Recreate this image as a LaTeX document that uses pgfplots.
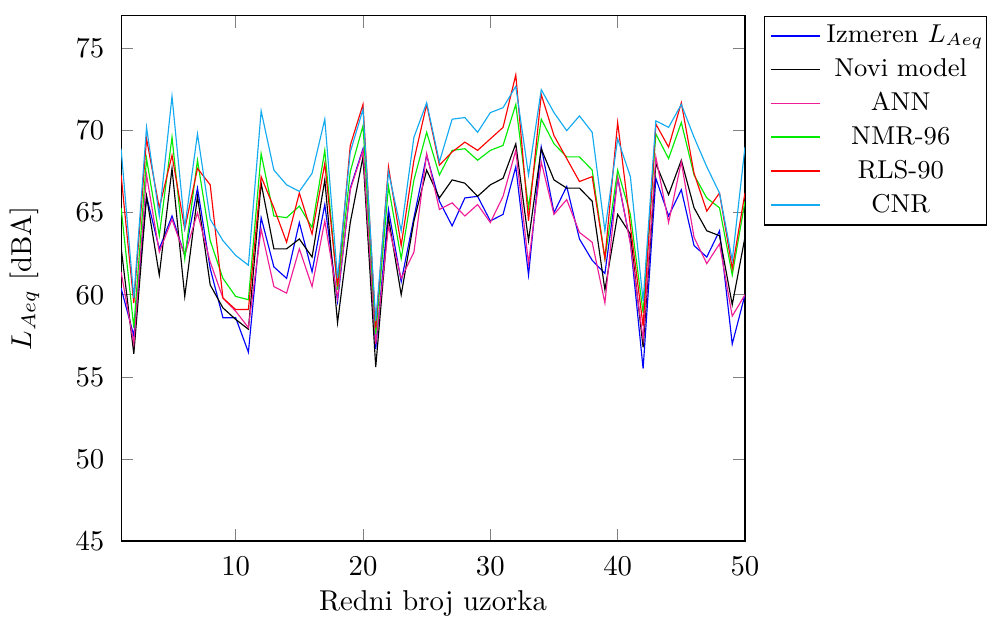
\documentclass[border=0pt]{standalone}
\usepackage{pgfplots}
\usepackage{pgfplotstable}
\pgfplotsset{compat=1.18}
\definecolor{annc}{RGB}{240,30,150}
\definecolor{cnrc}{RGB}{20,170,240}
\definecolor{nmrc}{RGB}{0,235,0}
\pgfplotstableread{
x izm novi ann nmr rls cnr
1 60.4 62.9 61.4 65.3 67.3 68.9
2 57.5 56.4 57.0 58.0 59.5 59.8
3 66.0 66.0 67.3 68.3 69.5 70.2
4 62.8 61.2 62.6 63.6 65.3 64.8
5 64.8 67.7 64.6 69.6 68.5 72.1
6 62.4 59.9 62.4 62.2 64.0 64.1
7 66.5 66.0 65.0 68.2 67.7 69.8
8 61.6 60.6 62.0 63.3 66.7 64.6
9 58.6 59.2 59.8 61.0 59.8 63.3
10 58.6 58.5 59.0 59.9 59.1 62.4
11 56.5 57.9 58.0 59.7 59.1 61.8
12 64.7 66.8 64.0 68.6 67.2 71.2
13 61.7 62.8 60.5 64.8 65.3 67.6
14 61.0 62.8 60.1 64.7 63.2 66.7
15 64.4 63.4 62.8 65.4 66.2 66.3
16 61.4 62.3 60.5 64.1 63.7 67.4
17 65.5 67.0 64.5 68.8 68.0 70.7
18 59.6 58.3 59.8 60.3 60.5 61.0
19 66.5 64.4 66.4 67.5 69.1 68.7
20 68.9 68.4 68.8 70.3 71.6 71.3
21 56.7 55.6 57.0 57.6 58.0 58.4
22 65.2 64.7 64.2 66.6 67.8 67.5
23 60.8 60.0 61.0 62.2 63.0 63.9
24 64.7 64.5 62.6 67.0 68.2 69.6
25 68.5 67.6 68.6 69.9 71.6 71.7
26 65.7 65.9 65.2 67.3 67.9 68.1
27 64.2 67.0 65.6 68.8 68.7 70.7
28 65.9 66.8 64.8 68.9 69.3 70.8
29 66.0 66.0 65.5 68.2 68.8 69.9
30 64.5 66.7 64.4 68.8 69.5 71.1
31 64.9 67.1 66.0 69.1 70.2 71.4
32 67.8 69.2 68.8 71.6 73.4 72.7
33 61.2 63.3 61.9 65.3 64.5 67.3
34 69.0 68.9 68.1 70.7 72.2 72.5
35 65.0 67.0 64.9 69.2 69.7 71.1
36 66.6 66.5 65.8 68.4 68.3 70.0
37 63.4 66.5 63.8 68.4 66.9 70.9
38 62.1 65.7 63.2 67.6 67.2 69.9
39 61.3 60.3 59.5 62.2 62.2 63.9
40 67.1 64.9 67.2 67.6 70.5 69.5
41 63.2 63.7 63.1 64.9 64.2 67.2
42 55.5 56.8 57.3 58.9 58.1 59.6
43 67.1 68.0 68.4 69.8 70.4 70.6
44 64.8 66.1 64.4 68.3 69.0 70.2
45 66.4 68.2 68.1 70.5 71.7 71.6
46 63.0 65.3 63.5 67.3 67.4 69.6
47 62.3 63.9 61.9 65.9 65.1 67.8
48 63.9 63.6 63.1 65.3 66.2 66.2
49 57.0 59.4 58.7 61.2 61.6 62.1
50 60.0 63.5 60.0 65.7 66.2 69.0
}\data
\begin{document}
\begin{tikzpicture}
\begin{axis}[
  scale only axis,
  width=217.4pt, height=183pt,
  xmin=1, xmax=50, ymin=45, ymax=77,
  xtick={10,20,30,40,50},
  ytick={45,50,55,60,65,70,75},
  xlabel={Redni broj uzorka},
  ylabel={$L_{Aeq}$ [dBA]},
  yticklabel style={xshift=-2.3pt},
  xticklabel style={yshift=-2pt},
  ylabel style={yshift=5.8pt},
  xlabel style={yshift=1.4pt},
  legend style={at={(1.03,1)}, anchor=north west, draw=black, font=\small,
    inner xsep=2pt, inner ysep=1pt},
  legend image post style={line width=0.6pt},
  legend cell align=center,
  every axis plot/.append style={line width=0.4pt},
]
\addplot[blue, no marks] table[x=x, y=izm] {\data};
\addlegendentry{Izmeren $L_{Aeq}$\hspace*{-3pt}}
\addplot[black, no marks] table[x=x, y=novi] {\data};
\addlegendentry{Novi model}
\addplot[annc, no marks] table[x=x, y=ann] {\data};
\addlegendentry{ANN}
\addplot[nmrc, no marks] table[x=x, y=nmr] {\data};
\addlegendentry{NMR-96}
\addplot[red, no marks] table[x=x, y=rls] {\data};
\addlegendentry{RLS-90}
\addplot[cnrc, no marks] table[x=x, y=cnr] {\data};
\addlegendentry{CNR}
\end{axis}
\path ([yshift=5.5pt]current axis.north);
\end{tikzpicture}
\end{document}
